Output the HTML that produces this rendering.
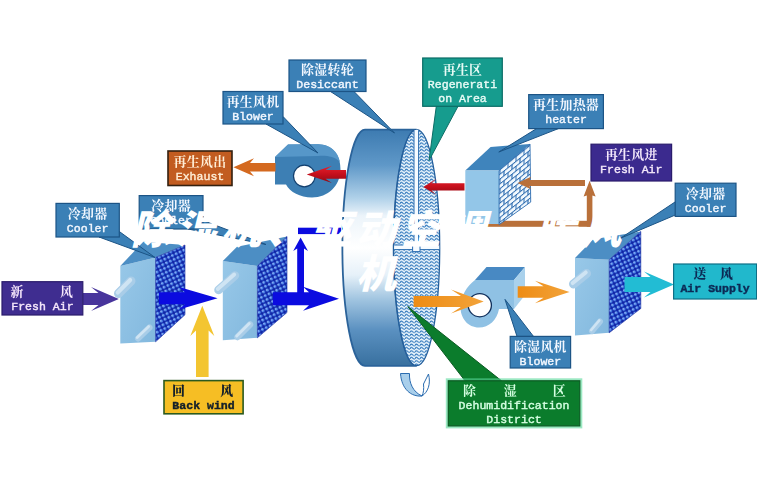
<!DOCTYPE html>
<html lang="zh"><head><meta charset="utf-8"><title>除湿机、驱动空调、暖风机</title>
<style>
html,body{margin:0;padding:0;background:#fff;}
body{width:757px;height:488px;overflow:hidden;position:relative;}
svg{position:absolute;left:0;top:0;display:block;filter:blur(.4px);}
.c{font-family:"Liberation Serif","Noto Serif CJK SC",serif;font-size:12.9px;letter-spacing:.3px;font-weight:700;text-anchor:middle;white-space:pre;}
.l{font-family:"Liberation Mono","Noto Serif CJK SC",monospace;font-size:11.55px;font-weight:normal;stroke-width:.4px;text-anchor:middle;white-space:pre;}
.title{position:absolute;left:0;top:207.5px;width:757px;text-align:center;color:#fff;font-family:"Liberation Sans","Noto Sans CJK SC",sans-serif;font-weight:900;font-style:italic;font-size:40px;line-height:44px;letter-spacing:5px;margin:0;}
</style></head><body>
<svg width="757" height="488" viewBox="0 0 757 488">
<defs>
<linearGradient id="gFront" x1="0" y1="0" x2="1" y2="1"><stop offset="0" stop-color="#98c8e8"/><stop offset="1" stop-color="#82b8de"/></linearGradient>
<pattern id="pMesh" width="4.2" height="4.2" patternUnits="userSpaceOnUse" patternTransform="rotate(-25)"><rect width="4.2" height="4.2" fill="#1024a6"/><circle cx="2.1" cy="2.1" r="1.65" fill="#4a80e8"/><circle cx="1.7" cy="1.7" r=".6" fill="#d4e6ff"/></pattern>
<pattern id="pWave" width="5" height="3.3" patternUnits="userSpaceOnUse"><rect width="5" height="3.3" fill="#e8f4fc"/><path d="M0,2.3 Q1.25,0.1 2.5,1.6 T5,2.3" fill="none" stroke="#2c74ba" stroke-width="1.1"/></pattern>
<pattern id="pGrid" width="8" height="9.6" patternUnits="userSpaceOnUse" patternTransform="matrix(1,-0.8,0,1,3,0)"><rect width="8" height="9.6" fill="#f2f9fe"/><path d="M0,0.6H8M0,5.4H8M1,0.6V5.4M5,5.4V10.2" stroke="#2d6cb0" stroke-width="1.1" fill="none"/></pattern>
<linearGradient id="gDrum" x1="0" y1="0" x2="0" y2="1"><stop offset="0" stop-color="#3d7bb1"/><stop offset=".15" stop-color="#5f98c8"/><stop offset=".29" stop-color="#b0d1e9"/><stop offset=".365" stop-color="#ecf4fa"/><stop offset=".5" stop-color="#ffffff"/><stop offset=".615" stop-color="#e6f1f9"/><stop offset=".72" stop-color="#a0c4e0"/><stop offset=".85" stop-color="#5a90c0"/><stop offset="1" stop-color="#38709f"/></linearGradient>
<linearGradient id="gOr" x1="0" y1="0" x2="1" y2="0"><stop offset="0" stop-color="#ee8c14"/><stop offset="1" stop-color="#f2a33a"/></linearGradient>
<linearGradient id="gRed" x1="0" y1="0" x2="0" y2="1"><stop offset="0" stop-color="#e8202c"/><stop offset=".5" stop-color="#c40f1c"/><stop offset="1" stop-color="#8e0a14"/></linearGradient>
<clipPath id="cFace"><ellipse cx="416.7" cy="247.7" rx="22.6" ry="118"/></clipPath>
</defs>
<rect width="757" height="488" fill="#ffffff"/>

<g fill="#b9703a">
<rect x="487" y="220.8" width="105.4" height="6"/>
</g>
<polygon points="586.8,226.8 586.8,195.4 583.6,196.4 589.6,180.7 595.6,196.4 592.4,195.4 592.4,226.8" fill="#b9703a"/>
<polygon points="585,180 529.5,180 531,176.8 517.6,183 531,189.2 529.5,186 585,186" fill="#b9703a"/>
<g>
<path d="M365,129.6 L416.7,129.6 A23,118 0 0 0 416.7,365.8 L365,365.8 A22.6,118 0 0 1 365,129.6 Z" fill="url(#gDrum)" stroke="#2b639a" stroke-width="1.8"/>
<ellipse cx="416.7" cy="247.7" rx="23" ry="118" fill="url(#pWave)" stroke="#245f9c" stroke-width="1.3"/>
<g clip-path="url(#cFace)"><rect x="414" y="128" width="4.6" height="119" fill="#f6fbff" stroke="#2a6cb0" stroke-width="1"/><rect x="392" y="245" width="50" height="4.6" fill="#f6fbff" stroke="#2a6cb0" stroke-width="1"/><rect x="412.6" y="243.2" width="7.4" height="8.4" fill="#f6fbff" stroke="#2a6cb0" stroke-width="1"/></g>
</g>
<path d="M400.5,373.5 L409.5,373.5 C409,383 413,392 422,396 C411,397 401.5,389 400.5,373.5 Z" fill="#a9cfeb" stroke="#2a6cb0" stroke-width="1"/>
<path d="M422,396 C428,392 431,384 428.5,374 L423.5,384 C424,389 423.5,393 422,396 Z" fill="#ffffff" stroke="#2a6cb0" stroke-width="1"/>
<polygon points="465.3,170.6 490.6,146.9 530,144 499.1,170.6" fill="#3f84bc"/>
<polygon points="465.3,170.6 499.1,170.6 499.1,224 465.3,224" fill="#93c6e8"/>
<polygon points="499.1,170.6 530,144 530.7,202 499.1,224.6" fill="url(#pGrid)" stroke="#2d6cb0" stroke-width=".9"/>
<polygon points="560,180 529.5,180 531,176.8 517.6,183 531,189.2 529.5,186 560,186" fill="#b9703a"/>
<g>
<path d="M275,157 L288,144.5 L318,144.2 C333,144.5 341,156 340.5,170 C340,186 328,197.5 312,197.5 C300,197.5 290,192 286,184.5 L275,184.5 Z" fill="#3d7fb4"/>
<path d="M275,157 L288,144.5 L318,144.2 C330,144.5 338,151 340,162 C334,156 326,155.5 318,156 Z" fill="#5697c9"/>
<circle cx="304.3" cy="176" r="10.8" fill="#fff" stroke="#123f6e" stroke-width="1.2"/>
</g>
<g>
<polygon points="475,280 486.5,267 525,267 514,280" fill="#4889c3"/>
<polygon points="514,280 525,267 525,295 514,309" fill="#a9d1ec"/>
<path d="M475,280 L514,280 L514,309 L499,309 C497,320 489,327.5 479,327.5 C468,327.5 460.5,318.5 460.5,307 C460.5,296 467,286 475,280 Z" fill="#8fc1e4"/>
<circle cx="479.8" cy="305.2" r="11.6" fill="#fff" stroke="#0f2f5c" stroke-width="1.3"/>
</g>
<polygon points="120.3,266 155.6,257.5 155.6,341.8 120.3,343.5" fill="url(#gFront)"/><polygon points="120.3,266 143.3,241.7 185,245 155.6,257.5" fill="#4c8ec4"/><polygon points="155.6,257.5 185,245 185,314.7 155.6,341.8" fill="url(#pMesh)" stroke="#1a2ea0" stroke-width=".6"/><line x1="131" y1="281" x2="118.5" y2="293.5" stroke="#a9cde8" stroke-width="9" stroke-linecap="round"/><line x1="130.2" y1="280" x2="117.7" y2="292.5" stroke="#cfe4f3" stroke-width="4.05" stroke-linecap="round"/><line x1="149.5" y1="327.5" x2="138" y2="338.5" stroke="#a9cde8" stroke-width="6" stroke-linecap="round"/><line x1="148.7" y1="326.5" x2="137.2" y2="337.5" stroke="#cfe4f3" stroke-width="2.7" stroke-linecap="round"/>
<polygon points="222.8,261 257.4,266 257.4,337.8 222.8,340.2" fill="url(#gFront)"/><polygon points="222.8,261 237,246.8 287,236.5 257.4,266" fill="#4c8ec4"/><polygon points="257.4,266 287,236.5 287,312.5 257.4,337.8" fill="url(#pMesh)" stroke="#1a2ea0" stroke-width=".6"/><line x1="235" y1="275.5" x2="218.5" y2="290" stroke="#a9cde8" stroke-width="8.5" stroke-linecap="round"/><line x1="234.2" y1="274.5" x2="217.7" y2="289" stroke="#cfe4f3" stroke-width="3.825" stroke-linecap="round"/><line x1="250" y1="324.5" x2="237.5" y2="337" stroke="#a9cde8" stroke-width="6.5" stroke-linecap="round"/><line x1="249.2" y1="323.5" x2="236.7" y2="336" stroke="#cfe4f3" stroke-width="2.925" stroke-linecap="round"/>
<polygon points="575,258 609.2,259.7 609.2,332.8 575,335.4" fill="url(#gFront)"/><polygon points="575,258 593.3,239.2 640.8,231.5 609.2,259.7" fill="#4c8ec4"/><polygon points="609.2,259.7 640.8,231.5 640.8,308.5 609.2,332.8" fill="url(#pMesh)" stroke="#1a2ea0" stroke-width=".6"/><line x1="586.5" y1="273.5" x2="573.5" y2="284" stroke="#a9cde8" stroke-width="9" stroke-linecap="round"/><line x1="585.7" y1="272.5" x2="572.7" y2="283" stroke="#cfe4f3" stroke-width="4.05" stroke-linecap="round"/><line x1="600" y1="321.5" x2="592" y2="331" stroke="#a9cde8" stroke-width="6" stroke-linecap="round"/><line x1="599.2" y1="320.5" x2="591.2" y2="330" stroke="#cfe4f3" stroke-width="2.7" stroke-linecap="round"/>
<polygon points="83,293 98.5,293 91,287 118.8,299 91,311 98.5,305 83,305" fill="#48359c"/>
<polygon points="159,292.3 185,292.3 179,287 217.6,298.3 179,309.6 185,304.3 159,304.3" fill="#0b0be0"/>
<rect x="298" y="227.7" width="43" height="6.4" fill="#0b0be0"/>
<polygon points="297.2,299 297.2,248.5 293.2,251 300.6,237.5 308,251 304,248.5 304,299" fill="#0b0be0"/>
<polygon points="272.9,292.3 309,292.3 303,286.8 339,298.8 303,310.8 309,305.3 272.9,305.3" fill="#0b0be0"/>
<polygon points="196,377 196,330.5 190.3,336 202.3,305.8 214.3,336 208.6,330.5 208.6,377" fill="#f3c531"/>
<polygon points="275.5,163 250,163 254,158.3 233.4,167.3 254,176.3 250,171.6 275.5,171.6" fill="#d4691f"/>
<polygon points="346,170 325.5,170 332,165.8 306.7,174.4 332,183 325.5,178.8 346,178.8" fill="url(#gRed)"/>
<polygon points="464.5,183.3 431.5,183.3 436.5,178.7 423.3,186.9 436.5,195.1 431.5,190.5 464.5,190.5" fill="url(#gRed)"/>
<polygon points="413.6,296 461,296 451,289.5 483.7,301.5 451,313.5 461,307 413.6,307" fill="url(#gOr)"/>
<polygon points="517.7,286.2 543.5,286.2 535,280.7 569.5,292 535,303.3 543.5,297.8 517.7,297.8" fill="url(#gOr)"/>
<polygon points="624.5,277.1 650.5,277.1 644,271.6 674,284.6 644,297.6 650.5,292.1 624.5,292.1" fill="#22bcd4"/>
<polygon points="330.5,91.5 354,91.5 394.5,133" fill="#3b80b6" stroke="#1c5486" stroke-width="1"/><rect x="289" y="60" width="77" height="31.5" fill="#3b80b6" stroke="#1c5486" stroke-width="1.2"/><text class="c" x="327.5" y="74.1" fill="#f4f8ff">除湿转轮</text><text class="l" x="327.5" y="88.1" fill="#f4f8ff" stroke="#f4f8ff">Desiccant</text>
<polygon points="266,124 283,116.5 318,153" fill="#3b80b6" stroke="#1c5486" stroke-width="1"/><rect x="223" y="91.5" width="60" height="32.5" fill="#3b80b6" stroke="#1c5486" stroke-width="1.2"/><text class="c" x="253" y="105.6" fill="#f4f8ff">再生风机</text><text class="l" x="253" y="119.6" fill="#f4f8ff" stroke="#f4f8ff">Blower</text>
<rect x="168" y="151" width="64" height="34.5" fill="#c25c20" stroke="#33200f" stroke-width="1.6"/><text class="c" x="200" y="165.6" fill="#ffeed6">再生风出</text><text class="l" x="200" y="179.6" fill="#ffeed6" stroke="#ffeed6">Exhaust</text>
<polygon points="436.3,106.3 458,106.3 429,160.6" fill="#169c8e" stroke="#0b6d66" stroke-width="1"/><rect x="422.7" y="58" width="79.6" height="48.3" fill="#169c8e" stroke="#0b6d66" stroke-width="1.2"/><text class="c" x="462.5" y="74.3" fill="#e8fbf6">再生区</text><text class="l" x="462.5" y="88" fill="#e8fbf6" stroke="#e8fbf6">Regenerati</text><text class="l" x="462.5" y="101.5" fill="#e8fbf6" stroke="#e8fbf6">on Area</text>
<polygon points="536.6,128.6 558.4,128.6 498.8,152" fill="#3b80b6" stroke="#1c5486" stroke-width="1"/><rect x="528.7" y="94.6" width="74.7" height="34" fill="#3b80b6" stroke="#1c5486" stroke-width="1.2"/><text class="c" x="566.05" y="108.9" fill="#f4f8ff">再生加热器</text><text class="l" x="566.05" y="122.9" fill="#f4f8ff" stroke="#f4f8ff">heater</text>
<rect x="591" y="144.2" width="80.6" height="36.8" fill="#3b2a8e" stroke="#2a1c6c" stroke-width="1.2"/><text class="c" x="631.3" y="158.6" fill="#f4e8fb">再生风进</text><text class="l" x="631.3" y="172.6" fill="#f4e8fb" stroke="#f4e8fb">Fresh Air</text>
<polygon points="676.5,201 676.5,214.5 620.6,238.2" fill="#3b80b6" stroke="#1c5486" stroke-width="1"/><rect x="675.2" y="183.2" width="60.8" height="33.2" fill="#3b80b6" stroke="#1c5486" stroke-width="1.2"/><text class="c" x="705.6" y="198.4" fill="#f4f8ff">冷却器</text><text class="l" x="705.6" y="212.4" fill="#f4f8ff" stroke="#f4f8ff">Cooler</text>
<rect x="673.6" y="264" width="83" height="35" fill="#21b8cc" stroke="#0e6f86" stroke-width="1.2"/><text class="c" x="700" y="278.4" fill="#0c2a55" style="font-weight:900">送</text><text class="c" x="726.7" y="278.4" fill="#0c2a55" style="font-weight:900">风</text><text class="l" x="715.1" y="292.4" fill="#0c2a55" stroke="#0c2a55" style="font-weight:bold">Air Supply</text>
<polygon points="517,336.4 533.5,336.4 505,299.4" fill="#3b80b6" stroke="#1c5486" stroke-width="1"/><rect x="510.2" y="336.4" width="60.4" height="31.6" fill="#3b80b6" stroke="#1c5486" stroke-width="1.2"/><text class="c" x="540.4" y="350.9" fill="#f4f8ff">除湿风机</text><text class="l" x="540.4" y="364.9" fill="#f4f8ff" stroke="#f4f8ff">Blower</text>
<polygon points="465,380.8 501.5,380.8 407.8,306.5" fill="#0b7c2c" stroke="#0a5a22" stroke-width="1"/><rect x="447.3" y="379.8" width="133.5" height="47.1" fill="none" stroke="#58d89a" stroke-width="3" opacity=".6"/><rect x="448.3" y="380.8" width="131.5" height="45.1" fill="#0b7c2c" stroke="#0a5a22" stroke-width="1.2"/><text class="c" x="469.5" y="395.3" fill="#d6ffe2">除</text><text class="c" x="510.3" y="395.3" fill="#d6ffe2">湿</text><text class="c" x="559.4" y="395.3" fill="#d6ffe2">区</text><text class="l" x="514.05" y="408.9" fill="#d6ffe2" stroke="#d6ffe2">Dehumidification</text><text class="l" x="514.05" y="423.2" fill="#d6ffe2" stroke="#d6ffe2">District</text>
<rect x="164" y="380.6" width="79.1" height="33.2" fill="#f6be24" stroke="#2c5a1e" stroke-width="1.6"/><text class="c" x="178.7" y="394.6" fill="#14202a" style="font-weight:900">回</text><text class="c" x="226.8" y="394.6" fill="#14202a" style="font-weight:900">风</text><text class="l" x="203.55" y="408.6" fill="#14202a" stroke="#14202a" style="font-weight:bold">Back wind</text>
<rect x="2" y="281.7" width="80.8" height="33.3" fill="#3f2d90" stroke="#2a1c6c" stroke-width="1.2"/><text class="c" x="17.2" y="296.3" fill="#f6e8fb">新</text><text class="c" x="66.5" y="296.3" fill="#f6e8fb">风</text><text class="l" x="42.4" y="310.3" fill="#f6e8fb" stroke="#f6e8fb">Fresh Air</text>
<polygon points="99,237 119.3,231.5 155,257.5" fill="#3b80b6" stroke="#1c5486" stroke-width="1"/><rect x="56" y="203.4" width="63.3" height="33.6" fill="#3b80b6" stroke="#1c5486" stroke-width="1.2"/><text class="c" x="87.65" y="218.4" fill="#f4f8ff">冷却器</text><text class="l" x="87.65" y="232.4" fill="#f4f8ff" stroke="#f4f8ff">Cooler</text>
<polygon points="188,229 203,220.5 266,244.5" fill="#3b80b6" stroke="#1c5486" stroke-width="1"/><rect x="139.2" y="195.6" width="63.8" height="33.4" fill="#3b80b6" stroke="#1c5486" stroke-width="1.2"/><text class="c" x="171.1" y="209.9" fill="#f4f8ff">冷却器</text><text class="l" x="171.1" y="223.9" fill="#f4f8ff" stroke="#f4f8ff">Cooler</text>
</svg>
<h1 class="title">除湿机、驱动空调、暖风<br>机</h1>
</body></html>
